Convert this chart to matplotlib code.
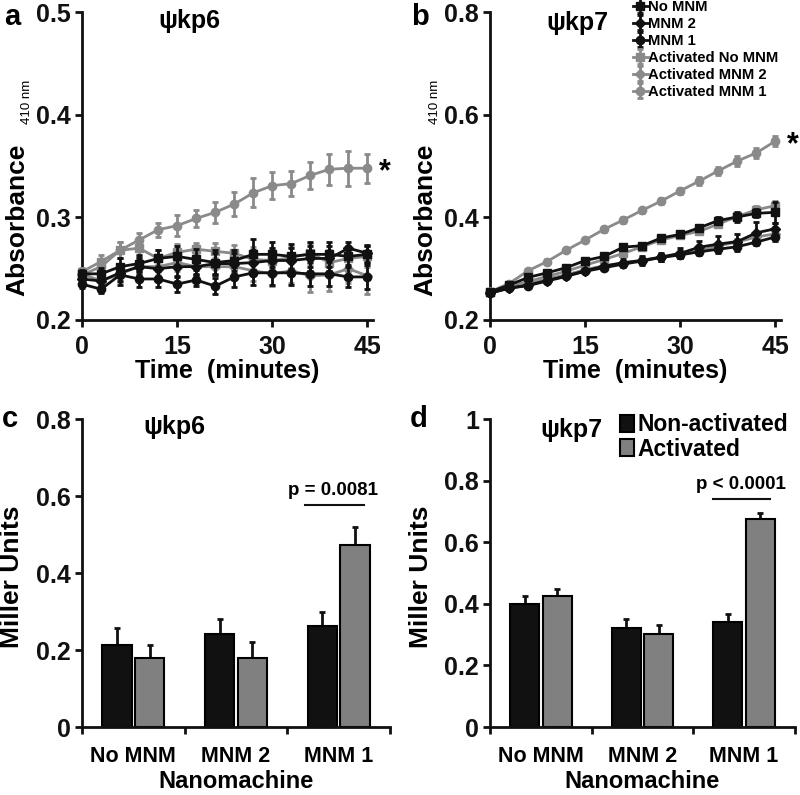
import matplotlib
matplotlib.use("Agg")
import matplotlib.pyplot as plt

plt.rcParams["font.family"] = ["Liberation Sans", "DejaVu Sans"]
plt.rcParams["font.weight"] = "bold"

BLACK = "#111111"
GRAY = "#8a8a8a"

# time course data (minutes)
times = [0, 3, 6, 9, 12, 15, 18, 21, 24, 27, 30, 33, 36, 39, 42, 45]
series_names = ["No MNM", "MNM 2", "MNM 1",
                "Activated No MNM", "Activated MNM 2", "Activated MNM 1"]

# panel a: psi-kp6
kp6_vals = [
    [0.245, 0.245, 0.252, 0.255, 0.260, 0.262, 0.259, 0.256, 0.258, 0.264, 0.264, 0.262, 0.264, 0.264, 0.262, 0.264],
    [0.240, 0.238, 0.246, 0.252, 0.250, 0.252, 0.252, 0.255, 0.255, 0.256, 0.258, 0.258, 0.260, 0.260, 0.270, 0.265],
    [0.235, 0.230, 0.244, 0.240, 0.240, 0.235, 0.239, 0.233, 0.242, 0.246, 0.246, 0.246, 0.245, 0.245, 0.242, 0.242],
    [0.247, 0.257, 0.268, 0.270, 0.260, 0.266, 0.269, 0.267, 0.265, 0.259, 0.258, 0.261, 0.265, 0.256, 0.260, 0.262],
    [0.245, 0.238, 0.245, 0.252, 0.252, 0.256, 0.252, 0.252, 0.252, 0.248, 0.245, 0.248, 0.243, 0.244, 0.250, 0.243],
    [0.244, 0.252, 0.268, 0.278, 0.288, 0.292, 0.299, 0.305, 0.313, 0.324, 0.331, 0.333, 0.341, 0.347, 0.348, 0.348],
]
kp6_errs = [
    [0.004, 0.006, 0.008, 0.008, 0.008, 0.010, 0.010, 0.012, 0.010, 0.015, 0.012, 0.012, 0.012, 0.012, 0.008, 0.008],
    [0.004, 0.006, 0.008, 0.008, 0.008, 0.010, 0.008, 0.010, 0.010, 0.012, 0.012, 0.012, 0.012, 0.012, 0.006, 0.008],
    [0.004, 0.004, 0.010, 0.008, 0.008, 0.008, 0.006, 0.008, 0.010, 0.012, 0.012, 0.012, 0.012, 0.012, 0.010, 0.012],
    [0.004, 0.006, 0.008, 0.008, 0.008, 0.008, 0.006, 0.008, 0.008, 0.012, 0.012, 0.010, 0.010, 0.012, 0.012, 0.010],
    [0.004, 0.006, 0.008, 0.008, 0.008, 0.008, 0.008, 0.008, 0.008, 0.010, 0.012, 0.012, 0.016, 0.016, 0.014, 0.018],
    [0.004, 0.006, 0.008, 0.007, 0.007, 0.010, 0.008, 0.010, 0.012, 0.014, 0.013, 0.012, 0.013, 0.015, 0.017, 0.014],
]

# panel b: psi-kp7
kp7_vals = [
    [0.255, 0.268, 0.283, 0.292, 0.302, 0.316, 0.324, 0.342, 0.345, 0.360, 0.367, 0.380, 0.394, 0.401, 0.408, 0.410],
    [0.253, 0.262, 0.268, 0.277, 0.286, 0.296, 0.305, 0.312, 0.316, 0.323, 0.330, 0.342, 0.348, 0.353, 0.370, 0.378],
    [0.252, 0.262, 0.267, 0.276, 0.285, 0.295, 0.302, 0.309, 0.315, 0.322, 0.327, 0.333, 0.338, 0.343, 0.352, 0.362],
    [0.255, 0.266, 0.275, 0.285, 0.295, 0.307, 0.318, 0.330, 0.343, 0.356, 0.365, 0.373, 0.387, 0.402, 0.415, 0.423],
    [0.255, 0.262, 0.270, 0.280, 0.288, 0.298, 0.306, 0.310, 0.317, 0.322, 0.328, 0.335, 0.345, 0.352, 0.362, 0.368],
    [0.255, 0.271, 0.296, 0.314, 0.336, 0.356, 0.377, 0.395, 0.414, 0.432, 0.452, 0.471, 0.491, 0.510, 0.526, 0.549],
]
kp7_errs = [
    [0.003, 0.003, 0.004, 0.004, 0.004, 0.004, 0.005, 0.005, 0.005, 0.006, 0.006, 0.006, 0.006, 0.010, 0.008, 0.020],
    [0.003, 0.003, 0.004, 0.004, 0.004, 0.004, 0.005, 0.006, 0.008, 0.008, 0.010, 0.012, 0.016, 0.014, 0.022, 0.012],
    [0.003, 0.003, 0.004, 0.004, 0.004, 0.004, 0.005, 0.006, 0.006, 0.006, 0.006, 0.006, 0.008, 0.008, 0.006, 0.008],
    [0.003, 0.003, 0.004, 0.004, 0.004, 0.004, 0.005, 0.005, 0.005, 0.005, 0.006, 0.006, 0.006, 0.006, 0.008, 0.010],
    [0.003, 0.003, 0.004, 0.004, 0.004, 0.004, 0.005, 0.005, 0.005, 0.005, 0.006, 0.006, 0.006, 0.006, 0.006, 0.008],
    [0.003, 0.003, 0.004, 0.004, 0.004, 0.004, 0.005, 0.005, 0.005, 0.006, 0.006, 0.008, 0.008, 0.010, 0.010, 0.010],
]

series_colors = [BLACK, BLACK, BLACK, GRAY, GRAY, GRAY]
series_markers = ["s", "D", "o", "s", "D", "o"]
series_msize = [6, 5, 6, 6, 5, 6]

# bar data (Miller units)
nanomachines = ["No MNM", "MNM 2", "MNM 1"]
kp6_nonact = [0.212, 0.241, 0.262]
kp6_nonact_err = [0.046, 0.041, 0.036]
kp6_act = [0.180, 0.180, 0.474]
kp6_act_err = [0.032, 0.041, 0.045]
kp7_nonact = [0.401, 0.323, 0.340]
kp7_nonact_err = [0.025, 0.029, 0.027]
kp7_act = [0.425, 0.303, 0.677]
kp7_act_err = [0.025, 0.030, 0.018]

fig = plt.figure(figsize=(8, 7.95), dpi=100)

NUM_FS = 18      # numeric tick labels
LABEL_FS = 18    # axis titles
TITLE_FS = 18


def style_axes(ax):
    for side in ["top", "right"]:
        ax.spines[side].set_visible(False)
    for side in ["left", "bottom"]:
        ax.spines[side].set_linewidth(2)
        ax.spines[side].set_color(BLACK)
    ax.tick_params(direction="out", width=2, length=5, labelsize=NUM_FS, colors=BLACK, pad=3)
    ax.tick_params(axis="x", pad=6)
    for lab in ax.get_xticklabels() + ax.get_yticklabels():
        lab.set_fontweight("bold")


def time_panel(rect, vals, errs, ylim, yticks, title, letter, title_xy):
    ax = fig.add_axes(rect)
    for i in range(len(vals)):
        ax.errorbar(times, vals[i], yerr=errs[i], color=series_colors[i],
                    marker=series_markers[i], markersize=series_msize[i],
                    linewidth=2, elinewidth=2, capsize=2, capthick=2,
                    label=series_names[i], clip_on=False, zorder=3 if i > 2 else 4)
    ax.set_xlim(0, 45.9)
    ax.set_ylim(*ylim)
    ax.set_xticks([0, 15, 30, 45])
    ax.set_yticks(yticks)
    ax.set_yticklabels([f"{t:.1f}" for t in yticks])
    style_axes(ax)
    ax.set_xlabel("Time  (minutes)", fontsize=LABEL_FS, fontweight="bold", labelpad=0)
    ax.text(-0.223, 0.325, "Absorbance", rotation=90, transform=ax.transAxes,
            fontsize=19, fontweight="bold", ha="center", va="center")
    ax.text(-0.19, 0.708, "410 nm", rotation=90, transform=ax.transAxes,
            fontsize=9.5, fontweight="normal", ha="center", va="center")
    ax.text(title_xy[0], title_xy[1], title, transform=ax.transAxes, fontsize=TITLE_FS,
            fontweight="bold", ha="center", va="center")
    ax.text(-0.24, 0.985, letter, transform=ax.transAxes, fontsize=21,
            fontweight="bold", ha="center", va="center")
    return ax


ax_a = time_panel([0.1025, 0.5975, 0.364, 0.387], kp6_vals, kp6_errs,
                  (0.2, 0.5), [0.2, 0.3, 0.4, 0.5], "\u03c8kp6", "a", (0.368, 0.972))
ax_a.text(46.8, kp6_vals[5][-1] - 0.004, "*", fontsize=22, fontweight="bold",
          ha="left", va="center")

ax_b = time_panel([0.6125, 0.5975, 0.364, 0.387], kp7_vals, kp7_errs,
                  (0.2, 0.8), [0.2, 0.4, 0.6, 0.8], "\u03c8kp7", "b", (0.30, 0.965))
ax_b.text(46.8, kp7_vals[5][-1] - 0.008, "*", fontsize=22, fontweight="bold",
          ha="left", va="center")
leg = ax_b.legend(loc="upper left", bbox_to_anchor=(0.791, 1.0), bbox_transform=fig.transFigure,
                  frameon=False, fontsize=10.7, handlelength=1.0, handletextpad=0.05,
                  labelspacing=0.2, borderpad=0, borderaxespad=0)
for t in leg.get_texts():
    t.set_fontweight("bold")


def bar_panel(rect, nonact, nonact_err, act, act_err, ylim, yticks, ylabels,
              title, letter, title_xy, ptext, pline, ptext_xy):
    ax = fig.add_axes(rect)
    xs = list(range(len(nanomachines)))
    w = 0.285
    off = 0.16
    ax.bar([x - off for x in xs], nonact, width=w, color=BLACK, edgecolor="black",
           linewidth=1.5, label="Non-activated", zorder=2)
    ax.bar([x + off for x in xs], act, width=w, color="#808080", edgecolor="black",
           linewidth=1.5, label="Activated", zorder=2)
    ax.errorbar([x - off for x in xs], nonact, yerr=[[0] * 3, nonact_err], fmt="none",
                ecolor=BLACK, elinewidth=2, capsize=2, capthick=2, zorder=1)
    ax.errorbar([x + off for x in xs], act, yerr=[[0] * 3, act_err], fmt="none",
                ecolor=BLACK, elinewidth=2, capsize=2, capthick=2, zorder=1)
    ax.set_xlim(-0.5, 2.5)
    ax.set_ylim(*ylim)
    ax.set_xticks([-0.5, 0.5, 1.5, 2.5])
    ax.set_xticklabels([])
    ax.set_xticks(xs, minor=True)
    ax.set_xticklabels(nanomachines, minor=True)
    ax.set_yticks(yticks)
    ax.set_yticklabels(ylabels)
    style_axes(ax)
    ax.tick_params(axis="x", which="minor", length=0, pad=14, labelsize=15.5)
    for lab in ax.get_xticklabels(minor=True):
        lab.set_fontweight("bold")
    ax.set_xlabel("Nanomachine", fontsize=17, fontweight="bold", labelpad=2)
    ax.text(-0.227, 0.487, "Miller Units", rotation=90, transform=ax.transAxes,
            fontsize=19, fontweight="bold", ha="center", va="center")
    ax.text(title_xy[0], title_xy[1], title, transform=ax.transAxes, fontsize=TITLE_FS,
            fontweight="bold", ha="center", va="center")
    ax.text(-0.233, 1.0, letter, transform=ax.transAxes, fontsize=21,
            fontweight="bold", ha="center", va="center")
    ax.plot(pline[0], pline[1], color=BLACK, linewidth=1.5)
    ax.text(ptext_xy[0], ptext_xy[1], ptext, fontsize=13.5, fontweight="bold",
            ha="center", va="center")
    return ax


bar_panel([0.1025, 0.0855, 0.385, 0.387], kp6_nonact, kp6_nonact_err, kp6_act, kp6_act_err,
          (0, 0.8), [0, 0.2, 0.4, 0.6, 0.8], ["0", "0.2", "0.4", "0.6", "0.8"],
          "\u03c8kp6", "c", (0.30, 0.975), "p = 0.0081", ([1.67, 2.25], [0.578, 0.578]), (1.94, 0.615))

ax_d = bar_panel([0.6125, 0.0855, 0.381, 0.387], kp7_nonact, kp7_nonact_err, kp7_act, kp7_act_err,
                 (0, 1.0), [0, 0.2, 0.4, 0.6, 0.8, 1.0], ["0", "0.2", "0.4", "0.6", "0.8", "1"],
                 "\u03c8kp7", "d", (0.266, 0.965), "p < 0.0001", ([1.69, 2.26], [0.74, 0.74]), (1.97, 0.788))
leg2 = ax_d.legend(loc="upper left", bbox_to_anchor=(0.775, 0.48), bbox_transform=fig.transFigure,
                   frameon=False, fontsize=16.5, handlelength=0.6, handleheight=0.8,
                   handletextpad=0.15, labelspacing=0.05, borderpad=0, borderaxespad=0)
for t in leg2.get_texts():
    t.set_fontweight("bold")

fig.savefig("out.png", dpi=100)
